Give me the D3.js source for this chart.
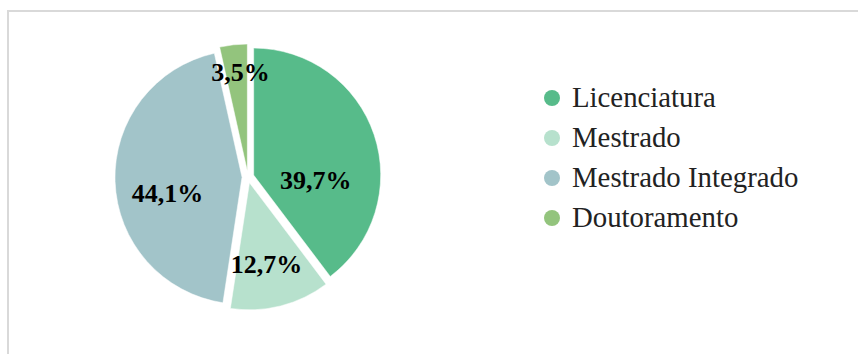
<!DOCTYPE html>
<html>
<head>
<meta charset="utf-8">
<script src="https://cdn.jsdelivr.net/npm/d3@7"></script>
<style>
  html, body { margin: 0; padding: 0; background: #fff; }
  svg { display: block; }
</style>
</head>
<body>
<svg id="chart" width="858" height="354"></svg>
<script>
// Distribution of degrees by cycle of study
const categories = ["Licenciatura", "Mestrado", "Mestrado Integrado", "Doutoramento"];
const shares = [39.7, 12.7, 44.1, 3.5];
const palette = ["#57bb8a", "#b7e1cd", "#a2c4c9", "#93c47d"];

const width = 858, height = 354;
const svg = d3.select("#chart");

// chart frame (light grey border running off the right and bottom)
svg.append("rect")
  .attr("x", 8).attr("y", 11)
  .attr("width", width + 20).attr("height", height + 20)
  .attr("fill", "#fff")
  .attr("stroke", "#d9d9d9")
  .attr("stroke-width", 2);

const color = d3.scaleOrdinal().domain(categories).range(palette);

// pie geometry
const cx = 248, cy = 177, radius = 127, explode = 6;
const pie = d3.pie().sort(null).value(d => d.value);
const arcs = pie(categories.map((c, i) => ({ name: c, value: shares[i] })));
const arc = d3.arc().innerRadius(0).outerRadius(radius);

// label placement inside each slice: angular nudge (degrees) and radial fraction
const labelLayout = [
  { nudge: 23, k: 0.49 },
  { nudge: 2.5, k: 0.66 },
  { nudge: -10, k: 0.60 },
  { nudge: 2.3, k: 0.78 }
];

const pct = d3.formatLocale({ decimal: ",", thousands: ".", grouping: [3], currency: ["", "€"] }).format(".1f");

const g = svg.append("g").attr("transform", `translate(${cx},${cy})`);

const slice = g.selectAll("g.slice")
  .data(arcs)
  .join("g")
  .attr("class", "slice")
  .attr("transform", d => {
    const mid = (d.startAngle + d.endAngle) / 2;
    const [ox, oy] = d3.pointRadial(mid, explode);
    return `translate(${ox},${oy})`;
  });

slice.append("path")
  .attr("d", arc)
  .attr("fill", d => color(d.data.name))
  .attr("stroke", "#fff")
  .attr("stroke-width", 0.5);

slice.append("text")
  .attr("transform", (d, i) => {
    const mid = (d.startAngle + d.endAngle) / 2 + labelLayout[i].nudge * Math.PI / 180;
    const [lx, ly] = d3.pointRadial(mid, radius * labelLayout[i].k);
    return `translate(${lx},${ly})`;
  })
  .attr("text-anchor", "middle")
  .attr("dy", "0.33em")
  .attr("font-family", "'Liberation Serif', 'DejaVu Serif', serif")
  .attr("font-weight", "bold")
  .attr("font-size", 26)
  .attr("fill", "#000")
  .text(d => pct(d.data.value) + "%");

// legend
const legendY = d3.scalePoint().domain(categories).range([98, 218]);
const legend = svg.append("g");
const item = legend.selectAll("g")
  .data(categories)
  .join("g")
  .attr("transform", d => `translate(552,${legendY(d)})`);

item.append("circle")
  .attr("r", 8)
  .attr("fill", d => color(d));

item.append("text")
  .attr("x", 20)
  .attr("y", 9)
  .attr("font-family", "'Liberation Serif', serif")
  .attr("font-size", 28.8)
  .attr("fill", "#222")
  .text(d => d);
</script>
</body>
</html>
